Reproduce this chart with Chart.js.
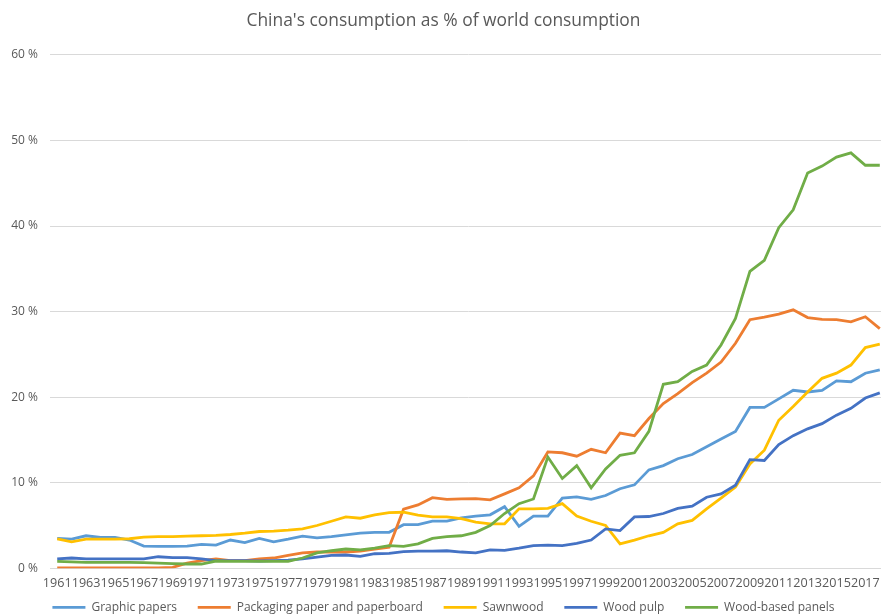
<!DOCTYPE html>
<html>
<head>
<meta charset="utf-8">
<script src="https://cdn.jsdelivr.net/npm/chart.js@4"></script>
<style>
html,body{margin:0;padding:0;background:#fff;overflow:hidden;}
#wrap{width:890px;height:616px;position:relative;}
</style>
</head>
<body>
<div id="wrap"><canvas id="c"></canvas></div>
<script>
const years = [];
for (let y = 1961; y <= 2018; y++) years.push(String(y));

const graphicPapers = [3.5,3.4,3.8,3.6,3.6,3.3,2.6,2.55,2.55,2.6,2.8,2.7,3.3,3.0,3.5,3.1,3.4,3.75,3.55,3.7,3.9,4.1,4.2,4.2,5.1,5.1,5.5,5.5,5.9,6.1,6.25,7.2,4.9,6.1,6.1,8.2,8.35,8.05,8.5,9.3,9.75,11.5,12.0,12.8,13.3,14.2,15.1,16.0,18.8,18.8,19.8,20.8,20.6,20.8,21.9,21.8,22.8,23.2];
const packaging = [0.05,0.05,0.05,0.05,0.05,0.05,0.05,0.05,0.1,0.6,0.9,1.1,0.9,0.9,1.1,1.2,1.5,1.8,1.9,1.9,1.9,2.0,2.25,2.45,6.9,7.4,8.25,8.05,8.1,8.15,8.0,8.7,9.4,10.8,13.6,13.5,13.1,13.9,13.5,15.8,15.5,17.5,19.25,20.4,21.7,22.8,24.1,26.3,29.05,29.35,29.7,30.2,29.3,29.1,29.05,28.8,29.4,28.0];
const sawnwood = [3.45,3.1,3.4,3.4,3.4,3.45,3.65,3.7,3.7,3.75,3.8,3.85,3.95,4.1,4.3,4.35,4.45,4.6,5.0,5.5,6.0,5.85,6.25,6.5,6.55,6.2,6.0,6.0,5.8,5.4,5.2,5.2,6.95,6.95,7.0,7.55,6.1,5.5,5.0,2.85,3.3,3.8,4.2,5.2,5.6,6.95,8.2,9.5,12.2,13.8,17.3,18.9,20.6,22.2,22.8,23.75,25.8,26.2];
const woodPulp = [1.1,1.2,1.1,1.1,1.1,1.1,1.1,1.35,1.25,1.25,1.1,0.9,0.9,0.9,0.85,0.9,0.95,1.1,1.3,1.5,1.55,1.4,1.7,1.75,1.95,2.0,2.0,2.05,1.9,1.8,2.15,2.1,2.35,2.65,2.7,2.65,2.9,3.3,4.6,4.4,6.0,6.05,6.4,7.0,7.25,8.3,8.7,9.7,12.7,12.6,14.45,15.5,16.3,16.9,17.9,18.7,19.9,20.5];
const woodPanels = [0.8,0.75,0.7,0.7,0.7,0.7,0.65,0.6,0.55,0.5,0.5,0.85,0.8,0.8,0.8,0.8,0.8,1.2,1.8,2.05,2.25,2.15,2.35,2.65,2.55,2.85,3.5,3.7,3.8,4.2,5.0,6.4,7.55,8.1,13.0,10.5,12.0,9.4,11.6,13.2,13.5,16.0,21.5,21.8,23.0,23.75,26.1,29.2,34.7,36.0,39.8,41.9,46.2,47.0,48.05,48.55,47.1,47.1];

const seriesNames = ["Graphic papers","Packaging paper and paperboard","Sawnwood","Wood pulp","Wood-based panels"];
const seriesData = [graphicPapers, packaging, sawnwood, woodPulp, woodPanels];
const seriesColors = ["#5B9BD5","#ED7D31","#FFC000","#4472C4","#70AD47"];
const yTicks = [0,10,20,30,40,50,60];

const FONT = "'Open Sans', 'Segoe UI', sans-serif";
const GREY = "#595959";

new Chart(document.getElementById('c'), {
  type: 'line',
  data: {
    labels: years,
    datasets: seriesNames.map((n, i) => ({
      label: n,
      data: seriesData[i],
      borderColor: seriesColors[i],
      backgroundColor: seriesColors[i],
      borderWidth: 2.8,
      pointRadius: 0,
      tension: 0,
      fill: false,
      order: seriesNames.length - i
    }))
  },
  options: {
    responsive: true,
    maintainAspectRatio: false,
    animation: false,
    layout: { padding: { top: 6, left: 0, right: 3, bottom: -7.4 } },
    plugins: {
      tooltip: { enabled: false },
      title: {
        display: true,
        text: "China's consumption as % of world consumption",
        color: GREY,
        font: { family: FONT, size: 17.4, weight: 'normal' },
        padding: { top: 5, bottom: 23 }
      },
      legend: {
        position: 'bottom',
        labels: {
          color: GREY,
          font: { family: FONT, size: 12 },
          usePointStyle: true,
          pointStyle: 'line',
          pointStyleWidth: 33,
          boxHeight: 12,
          padding: 2,
          sort: (a, b) => a.datasetIndex - b.datasetIndex,
          generateLabels: (chart) => {
            const items = Chart.defaults.plugins.legend.labels.generateLabels(chart);
            items.forEach((it) => {
              if (it.datasetIndex < seriesNames.length - 1) it.text = it.text + '      ';
            });
            return items;
          }
        }
      }
    },
    scales: {
      x: {
        offset: true,
        grid: { display: false, drawTicks: false },
        border: { display: true, color: '#d9d9d9', width: 1 },
        ticks: {
          autoSkip: false,
          maxRotation: 0,
          minRotation: 0,
          padding: 8,
          color: GREY,
          font: { family: FONT, size: 12.6 },
          callback: function(v, i) { return i % 2 === 0 ? this.getLabelForValue(v) : ''; }
        }
      },
      y: {
        min: 0,
        max: 60,
        afterFit: (s) => { s.width = 50; },
        afterBuildTicks: (s) => { s.ticks = yTicks.map(v => ({ value: v })); },
        grid: { color: '#d9d9d9', lineWidth: 1, drawTicks: false },
        border: { display: false },
        ticks: {
          padding: 12,
          color: GREY,
          font: { family: FONT, size: 12 },
          callback: (v) => v + ' %'
        }
      }
    }
  }
});
</script>
</body>
</html>
